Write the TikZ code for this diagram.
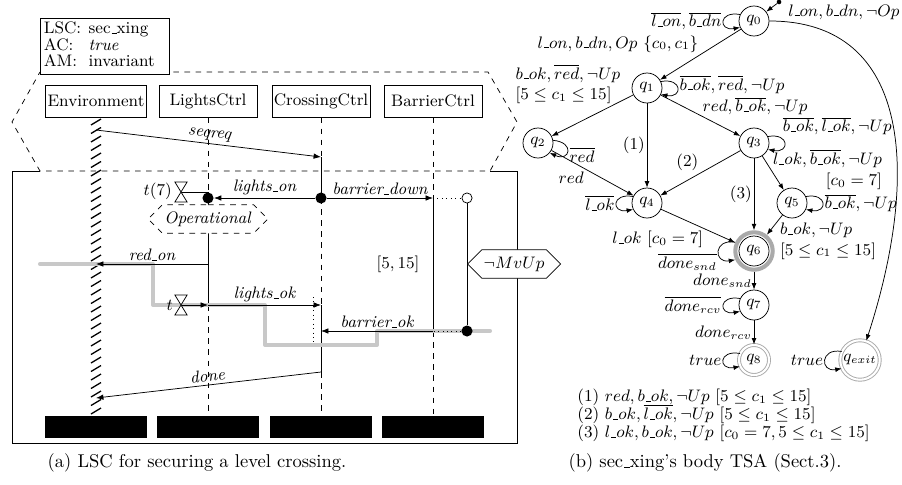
\documentclass[tikz,border=0pt]{standalone}
\usepackage{tikz}
\usetikzlibrary{arrows.meta, positioning, shapes.geometric, shapes.symbols, calc}
\usepackage{xcolor}
\usepackage{amsmath}
\definecolor{CutG}{RGB}{200,200,200}
\definecolor{RingG}{RGB}{170,170,170}
\newcommand{\usc}{\mbox{\kern.06em\vbox{\hrule height .5pt width .3em}}}

\begin{document}
\begin{tikzpicture}[
  x=0.54pt, y=-0.54pt,
  inst/.style={draw, minimum width=53pt, minimum height=17.3pt,
               inner sep=1pt, font=\small},
  hdr/.style={draw, fill=white, text width=66pt, inner sep=2pt,
              align=left, font=\small},
  endbar/.style={fill=black, minimum width=55pt, minimum height=11.9pt,
                 inner sep=0pt},
  dot/.style={circle, fill=black, minimum size=6pt, inner sep=0pt},
  odot/.style={circle, draw, fill=white, minimum size=5.5pt, inner sep=0pt},
  idot/.style={circle, fill=black, minimum size=2.5pt, inner sep=0pt},
  cond/.style={draw, fill=white, signal, signal to=west and east,
               minimum height=15.5pt, inner xsep=1pt, font=\small},
  msg/.style={-{Latex[length=4pt,width=3pt]}},
  mlab/.style={font=\small\itshape, inner sep=1.5pt},
  cold/.style={dashed},
  cut/.style={draw=CutG, line width=2.2pt, line cap=round, line join=round},
  hglass/.pic={\draw[fill=white] (-3.3pt,-5.4pt) -- (3.3pt,-5.4pt)
               -- (-3.3pt,5.4pt) -- (3.3pt,5.4pt) -- cycle;},
  st/.style={circle, draw, minimum size=16.2pt, inner sep=0pt, font=\small},
  fin/.style={circle, draw=RingG, line width=2.2pt, minimum size=20.2pt,
              inner sep=0pt, font=\small,
              path picture={\draw[black, line width=0.4pt]
                (path picture bounding box.center) circle (8.1pt);}},
  acc/.style={circle, draw=RingG, double=white, double distance=1.1pt,
              line width=0.5pt, minimum size=16.2pt, inner sep=1pt, font=\small},
  tr/.style={-{Latex[length=3.5pt,width=2.6pt]}},
  lab/.style={font=\small, inner sep=1pt},
  loopL/.style={to path={(\tikztostart.155)
    .. controls ($(\tikztostart.155)+(170:12pt)$) and ($(\tikztostart.205)+(190:12pt)$)
    .. (\tikztostart.205) \tikztonodes}},
  loopR/.style={to path={(\tikztostart.25)
    .. controls ($(\tikztostart.25)+(10:12pt)$) and ($(\tikztostart.-25)+(-10:12pt)$)
    .. (\tikztostart.-25) \tikztonodes}},
  loopD/.style={to path={(\tikztostart.10)
    .. controls ($(\tikztostart.10)+(-5:12pt)$) and ($(\tikztostart.-40)+(-25:12pt)$)
    .. (\tikztostart.-40) \tikztonodes}}
]
\useasboundingbox (0,0) rectangle (902,484);

% chart frame
\draw[dashed] (40,72) -- (488,72) -- (517,122) -- (490,171)
  -- (40,171) -- (12,122) -- cycle;
\draw (40,171) -- (12,171) -- (12,443) -- (517,443) -- (517,171) -- (490,171);
\node[hdr] (lsc) at (105,46.5) {\def\arraystretch{0.72}%
  \begin{tabular}{@{}l@{\hspace{4pt}}l@{}}
  LSC: & sec\usc xing\\ AC: & \textit{true}\\ AM: & invariant
  \end{tabular}};

% instances
\node[inst] (env) at (96,101)  {Environment};
\node[inst] (lc)  at (208,101) {LightsCtrl};
\node[inst] (cc)  at (321,101) {CrossingCtrl};
\node[inst] (bc)  at (433,101) {BarrierCtrl};
\node[endbar] (envE) at (96,427)  {};
\node[endbar] (lcE)  at (208,427) {};
\node[endbar] (ccE)  at (321,427) {};
\node[endbar] (bcE)  at (433,427) {};

% lifelines
\foreach \yy in {122,130.5,...,412}
  \draw[line width=0.7pt] (91,\yy+3) -- (101,\yy-3);
\draw[cold] (lc.south) -- (lc |- 0,192);
\draw (lc |- 0,192) -- (lc |- 0,305);
\draw[cold] (lc |- 0,305) -- (lcE.north);
\draw[cold] (cc.south) -- (cc |- 0,157);
\draw (cc |- 0,157) -- (cc |- 0,198);
\draw[cold] (cc |- 0,198) -- (cc |- 0,305);
\draw (cc |- 0,305) -- (cc |- 0,372);
\draw[cold] (cc |- 0,372) -- (ccE.north);
\draw[cold] (bc.south) -- (bc |- 0,198);
\draw (bc |- 0,198) -- (bc |- 0,331);
\draw[cold] (bc |- 0,331) -- (bcE.north);

% cut
\draw[cut] (40,264) -- (153,264) -- (153,305) -- (265,305) -- (265,345)
  -- (377,345) -- (377,331) -- (490,331);

% dots and conditions
\node[dot]  (lOn) at (lc |- 0,198) {};
\node[dot]  (cDn) at (cc |- 0,198) {};
\node[odot] (bUp) at (467,198) {};
\node[dot]  (bOk) at (467,331) {};
\draw (bUp) -- (bOk);
\node[cond, dashed] (oper) at (208,219) {\textit{Operational}};
\node[cond, anchor=west] (mvup) at (467,264) {$\neg MvUp$};
\node[font=\small] (rng) at (398,264) {$[5,15]$};

% messages
\draw[msg] (env |- 0,130) -- node[mlab, sloped, above]{seqreq} (cc |- 0,157);
\draw[msg] (cDn) -- node[mlab, above]{lights\usc on} (lOn);
\draw[msg] (cDn) -- node[mlab, above]{barrier\usc down} (bc |- 0,198);
\draw[dotted] (bc |- 0,198) -- (bUp);
\draw[msg] (lc |- 0,264) -- node[mlab, above]{red\usc on} (env |- 0,264);
\draw[msg] (lc |- 0,305) -- node[mlab, above]{lights\usc ok} (cc |- 0,305);
\draw[dotted] (313,297) -- (313,342);
\draw[dotted] (bOk) -- (bc |- 0,331);
\draw[msg] (bc |- 0,331) -- node[mlab, above]{barrier\usc ok} (cc |- 0,331);
\draw[msg] (cc |- 0,372) -- node[mlab, sloped, above]{done} (env |- 0,398);

% timers
\coordinate (hgA) at (181,192);
\coordinate (hgB) at (181,305);
\draw (hgA) -- (lc |- 0,192);
\draw[msg] (hgB) -- (lc |- 0,305);
\pic at (hgA) {hglass};
\pic at (hgB) {hglass};
\node[font=\small, anchor=east, inner sep=1pt] (tA) at (174,191) {$t(7)$};
\node[font=\small, anchor=east, inner sep=1pt] (tB) at (175,305) {$t$};

\node (capA) at (197,463) {(a) LSC for securing a level crossing.};

% TSA states
\node[idot] (ini) at (779,2) {};
\node[st]  (q0) at (754,21)  {$q_0$};
\node[st]  (q1) at (647,88)  {$q_1$};
\node[st]  (q2) at (538,143) {$q_2$};
\node[st]  (q3) at (754,143) {$q_3$};
\node[st]  (q4) at (647,203) {$q_4$};
\node[st]  (q5) at (792,203) {$q_5$};
\node[fin] (q6) at (754,251) {$q_6$};
\node[st]  (q7) at (754,305) {$q_7$};
\node[acc] (q8) at (754,360) {$q_8$};
\node[acc] (qx) at (860,360) {$q_{exit}$};

% transitions
\draw[tr] (ini) -- (q0);
\draw[tr] (q0) to[loopL] node[lab, anchor=east]{$\overline{l\usc on}, \overline{b\usc dn}$} (q0);
\draw[tr] (q0) -- node[lab, pos=.5, anchor=south east]{$l\usc on, b\usc dn, Op\ \{c_0,c_1\}$} (q1);
\draw[tr] (q0) to[out=0, in=72, out distance=78pt, in distance=92pt]
  node[lab, pos=.04, anchor=south west]{$l\usc on, b\usc dn, \neg Op$} (qx);
\draw[tr] (q1) to[loopR] node[lab, anchor=west, yshift=2pt]{$\overline{b\usc ok}, \overline{red}, \neg Up$} (q1);
\draw[tr] (q1) -- node[lab, pos=.2, anchor=south east, align=left, xshift=3pt, yshift=-1.5pt]
  {$b\usc ok, \overline{red}, \neg Up$\\$[5\leq c_1\leq 15]$} (q2);
\draw[tr] (q1) -- node[lab, pos=.5, anchor=south west, yshift=-1pt]{$red, \overline{b\usc ok}, \neg Up$} (q3);
\draw[tr] (q1) -- node[lab, anchor=east]{(1)} (q4);
\draw[tr] (q2) to[loopD] node[lab, anchor=west, yshift=-2pt]{$\overline{red}$} (q2);
\draw[tr] (q2) -- node[lab, pos=.42, anchor=north east]{$red$} (q4);
\draw[tr] (q3) to[loopR] node[lab, anchor=south west, xshift=-2pt, yshift=3pt]
  {$\overline{b\usc ok}, \overline{l\usc ok}, \neg Up$} (q3);
\draw[tr] (q3) -- node[lab, anchor=south east]{(2)} (q4);
\draw[tr] (q3) -- node[lab, pos=.4, anchor=west, align=right]
  {$l\usc ok, \overline{b\usc ok}, \neg Up$\\$[c_0=7]$} (q5);
\draw[tr] (q3) -- node[lab, anchor=east]{(3)} (q6);
\draw[tr] (q4) to[loopL] node[lab, anchor=east]{$\overline{l\usc ok}$} (q4);
\draw[tr] (q4) -- node[lab, pos=.6, anchor=north east]{$l\usc ok\ [c_0=7]$} (q6);
\draw[tr] (q5) to[loopR] node[lab, anchor=west]{$\overline{b\usc ok}, \neg Up$} (q5);
\draw[tr] (q5) -- node[lab, pos=.3, anchor=north west, align=left]
  {$b\usc ok, \neg Up$\\$[5\leq c_1\leq 15]$} (q6);
\draw[tr] (q6) to[loopL] node[lab, anchor=north east]{$\overline{done_{snd}}$} (q6);
\draw[tr] (q6) -- node[lab, anchor=east]{$done_{snd}$} (q7);
\draw[tr] (q7) to[loopL] node[lab, anchor=east]{$\overline{done_{rcv}}$} (q7);
\draw[tr] (q7) -- node[lab, anchor=east]{$done_{rcv}$} (q8);
\draw[tr] (q8) to[loopL] node[lab, anchor=east]{$true$} (q8);
\draw[tr] (qx) to[loopL] node[lab, anchor=east]{$true$} (qx);

% footnotes
\node[font=\small, anchor=north west, align=left, inner sep=0pt] (notes) at (577,389)
  {(1) $red, b\usc ok, \neg Up\ [5\leq c_1\leq 15]$\\[-1.3pt]
   (2) $b\usc ok, \overline{l\usc ok}, \neg Up\ [5\leq c_1\leq 15]$\\[-1.3pt]
   (3) $l\usc ok, b\usc ok, \neg Up\ [c_0=7, 5\leq c_1\leq 15]$};
\node (capB) at (705,463) {(b) sec\usc xing's body TSA (Sect.3).};
\end{tikzpicture}
\end{document}
